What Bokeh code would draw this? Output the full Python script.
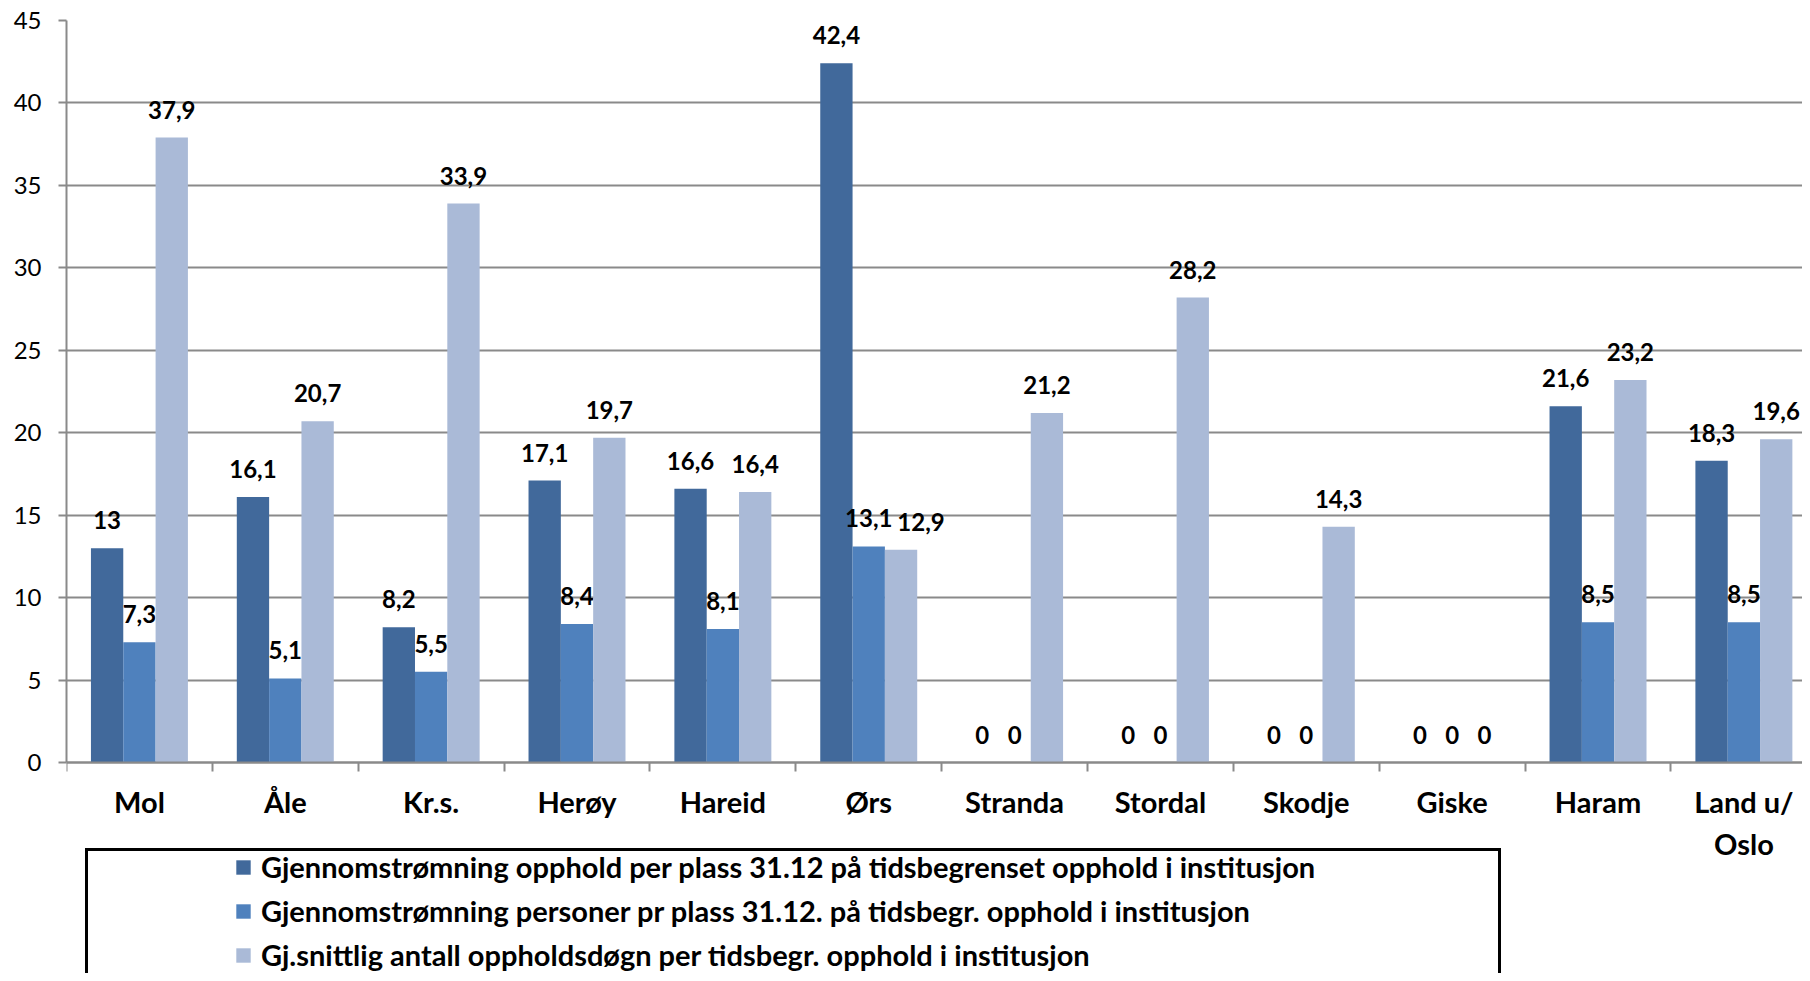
from bokeh.plotting import figure
from bokeh.models import ColumnDataSource, Range1d, FixedTicker, Legend, LegendItem
from bokeh.transform import dodge
from bokeh.core.properties import value
from bokeh.embed import file_html
from bokeh.resources import INLINE

categories = ["Mol", "Åle", "Kr.s.", "Herøy", "Hareid", "Ørs", "Stranda",
              "Stordal", "Skodje", "Giske", "Haram", "Land u/\nOslo"]
gjennom_opphold = [13, 16.1, 8.2, 17.1, 16.6, 42.4, 0, 0, 0, 0, 21.6, 18.3]
gjennom_personer = [7.3, 5.1, 5.5, 8.4, 8.1, 13.1, 0, 0, 0, 0, 8.5, 8.5]
snitt_dogn = [37.9, 20.7, 33.9, 19.7, 16.4, 12.9, 21.2, 28.2, 14.3, 0, 23.2, 19.6]
series_names = [
    "Gjennomstrømning opphold per plass 31.12 på tidsbegrenset opphold i institusjon",
    "Gjennomstrømning personer pr plass 31.12. på tidsbegr. opphold i institusjon",
    "Gj.snittlig antall oppholdsdøgn per tidsbegr. opphold i institusjon",
]
y_ticks = [0, 5, 10, 15, 20, 25, 30, 35, 40, 45]

colors = ["#41699B", "#4F81BD", "#AABAD7"]
FONT = "Lato"
GRID = "#8A8A8A"

# label nudges in screen pixels (the third-series label at Ørs is moved right)
label_nudge_s3 = {"Ørs": 20}


def fmt(v):
    return f"{v:g}".replace(".", ",")


centers = [i + 0.5 for i in range(len(categories))]
src = ColumnDataSource(dict(
    x=centers,
    s1=gjennom_opphold, s2=gjennom_personer, s3=snitt_dogn,
    l1=[fmt(v) for v in gjennom_opphold],
    l2=[fmt(v) for v in gjennom_personer],
    l3=[fmt(v) for v in snitt_dogn],
    dx0=[0] * len(categories),
    dx3=[label_nudge_s3.get(c, 0) for c in categories],
))

W, H = 1802, 973
left, top, zero_y = 66, 20, 762
px_per_unit = (zero_y - top) / 45.0
y_min = -(H - zero_y) / px_per_unit
cat_px = 145.86
x_max = (W - left) / cat_px

p = figure(width=W, height=H, output_backend="svg", toolbar_location=None,
           x_range=Range1d(0, x_max), y_range=Range1d(y_min, 45),
           min_border_left=left, min_border_right=0, min_border_top=top,
           min_border_bottom=0)
p.outline_line_color = None
p.background_fill_color = "white"
p.xgrid.grid_line_color = None
p.ygrid.ticker = FixedTicker(ticks=y_ticks)
p.ygrid.grid_line_color = GRID
p.ygrid.grid_line_width = 2

bw = 0.2216
offsets = [-bw, 0.0, bw]
nudges = ["dx0", "dx0", "dx3"]
renderers = []
for k, (col, lab, c) in enumerate(zip(["s1", "s2", "s3"], ["l1", "l2", "l3"], colors)):
    r = p.vbar(x=dodge("x", offsets[k]), top=col, width=bw, bottom=0,
               source=src, fill_color=c, line_color=None)
    renderers.append(r)
    p.text(x=dodge("x", offsets[k]), y=col, text=lab, source=src,
           text_align="center", text_baseline="alphabetic", y_offset=-28,
           x_offset=nudges[k],
           text_font=value(FONT), text_font_style="bold",
           text_font_size="24px", text_color="black")

# y axis
p.yaxis.ticker = FixedTicker(ticks=y_ticks)
p.yaxis.bounds = (0, 45)
p.yaxis.axis_line_color = GRID
p.yaxis.axis_line_width = 2
p.yaxis.major_tick_line_color = GRID
p.yaxis.major_tick_line_width = 2
p.yaxis.major_tick_out = 8
p.yaxis.major_tick_in = 0
p.yaxis.minor_tick_line_color = None
p.yaxis.major_label_text_font = FONT
p.yaxis.major_label_text_font_size = "24px"
p.yaxis.major_label_text_color = "black"
p.yaxis.major_label_standoff = 17

# x axis, placed on the zero line
p.xaxis.fixed_location = 0
p.xaxis.ticker = FixedTicker(ticks=centers, minor_ticks=list(range(len(categories) + 1)))
p.xaxis.major_label_overrides = {c: n for c, n in zip(centers, categories)}
p.xaxis.axis_line_color = GRID
p.xaxis.axis_line_width = 2
p.xaxis.major_tick_line_color = None
p.xaxis.major_tick_out = 0
p.xaxis.major_tick_in = 0
p.xaxis.minor_tick_line_color = GRID
p.xaxis.minor_tick_line_width = 2
p.xaxis.minor_tick_out = 9
p.xaxis.minor_tick_in = 0
p.xaxis.major_label_text_font = FONT
p.xaxis.major_label_text_font_style = "bold"
p.xaxis.major_label_text_font_size = "29px"
p.xaxis.major_label_text_color = "black"
p.xaxis.major_label_standoff = 12

# legend box (frame) and legend content
r_box = p.vbar(x=[], top=[], width=0.1, fill_alpha=0, line_alpha=0)
box = Legend(items=[LegendItem(label=" ", renderers=[r_box])],
             location=(19, -20), padding=0, margin=0, glyph_width=1,
             glyph_height=1, label_standoff=0, label_width=1409,
             label_height=139, label_text_font_size="2px",
             border_line_color="black", border_line_alpha=1.0,
             border_line_width=3.5,
             background_fill_color="white", background_fill_alpha=1)
content = Legend(items=[LegendItem(label=n, renderers=[r])
                        for n, r in zip(series_names, renderers)],
                 location=(168, 1), padding=0, margin=0, spacing=9,
                 glyph_width=18, glyph_height=18, label_standoff=9,
                 label_height=35, border_line_color=None,
                 background_fill_alpha=0,
                 label_text_font=FONT, label_text_font_style="bold",
                 label_text_font_size="29px", label_text_color="black")
p.add_layout(box, "center")
p.add_layout(content, "center")

open("out.html", "w").write(file_html(p, INLINE))
